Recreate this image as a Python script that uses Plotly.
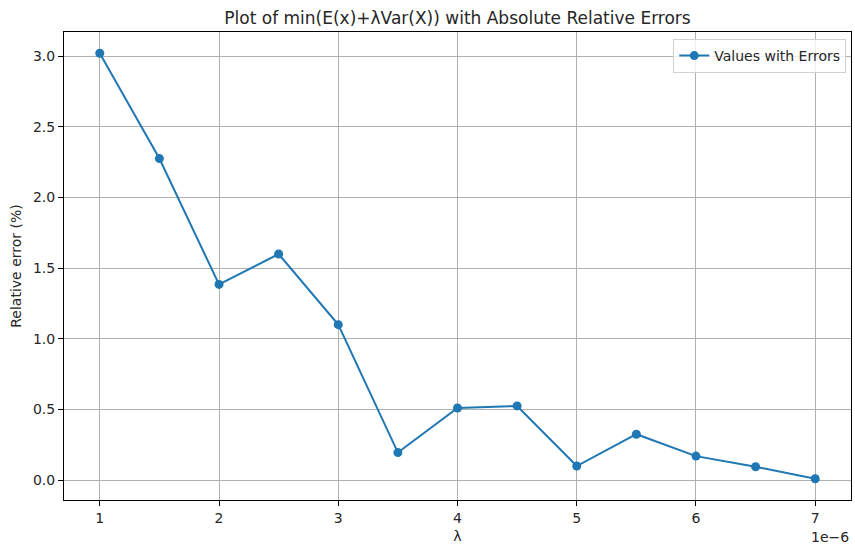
import plotly.graph_objects as go

lam = [1.0, 1.5, 2.0, 2.5, 3.0, 3.5, 4.0, 4.5, 5.0, 5.5, 6.0, 6.5, 7.0]
err = [3.02, 2.275, 1.385, 1.60, 1.10, 0.195, 0.51, 0.525, 0.10, 0.325, 0.17, 0.095, 0.01]
xticks = [1, 2, 3, 4, 5, 6, 7]
yticks = [0.0, 0.5, 1.0, 1.5, 2.0, 2.5, 3.0]

scale = 1e-6
xs = [v * scale for v in lam]

font = "DejaVu Sans"
fig = go.Figure()
fig.add_trace(go.Scatter(
    x=xs, y=err, mode="lines+markers", name="Values with Errors",
    line=dict(color="#1f77b4", width=2),
    marker=dict(color="#1f77b4", size=9),
))

fig.update_layout(
    width=855, height=548,
    margin=dict(l=64, r=4, t=32, b=48),
    plot_bgcolor="white", paper_bgcolor="white",
    font=dict(family=font, size=14, color="#262626"),
    title=dict(text="Plot of min(E(x)+λVar(X)) with Absolute Relative Errors",
               x=0.5, xref="paper", xanchor="center", y=0.967, yanchor="middle",
               font=dict(size=17, color="#262626")),
    showlegend=True,
    legend=dict(x=0.994, y=0.985, xanchor="right", yanchor="top",
                bgcolor="rgba(255,255,255,0.8)", bordercolor="#d0d0d0", borderwidth=1,
                font=dict(size=14)),
)
fig.update_xaxes(
    range=[0.7 * scale, 7.3 * scale],
    tickvals=[t * scale for t in xticks], ticktext=[str(t) for t in xticks],
    showgrid=True, gridcolor="#b0b0b0", gridwidth=1,
    showline=True, linecolor="black", linewidth=1, mirror=True,
    ticks="outside", ticklen=5, tickcolor="black", zeroline=False,
    title=dict(text="λ", standoff=6, font=dict(size=14)),
)
fig.update_yaxes(
    range=[-0.1405, 3.1705],
    tickvals=yticks, ticktext=[f"{t:.1f}" for t in yticks],
    showgrid=True, gridcolor="#b0b0b0", gridwidth=1,
    showline=True, linecolor="black", linewidth=1, mirror=True,
    ticks="outside", ticklen=5, tickcolor="black", zeroline=False,
    title=dict(text="Relative error (%)", standoff=8, font=dict(size=14)),
)
fig.add_annotation(text="1e−6", xref="paper", yref="paper", x=1.0, y=-0.058,
                   xanchor="right", yanchor="top", showarrow=False, font=dict(size=14))
fig.write_html("out.html")
